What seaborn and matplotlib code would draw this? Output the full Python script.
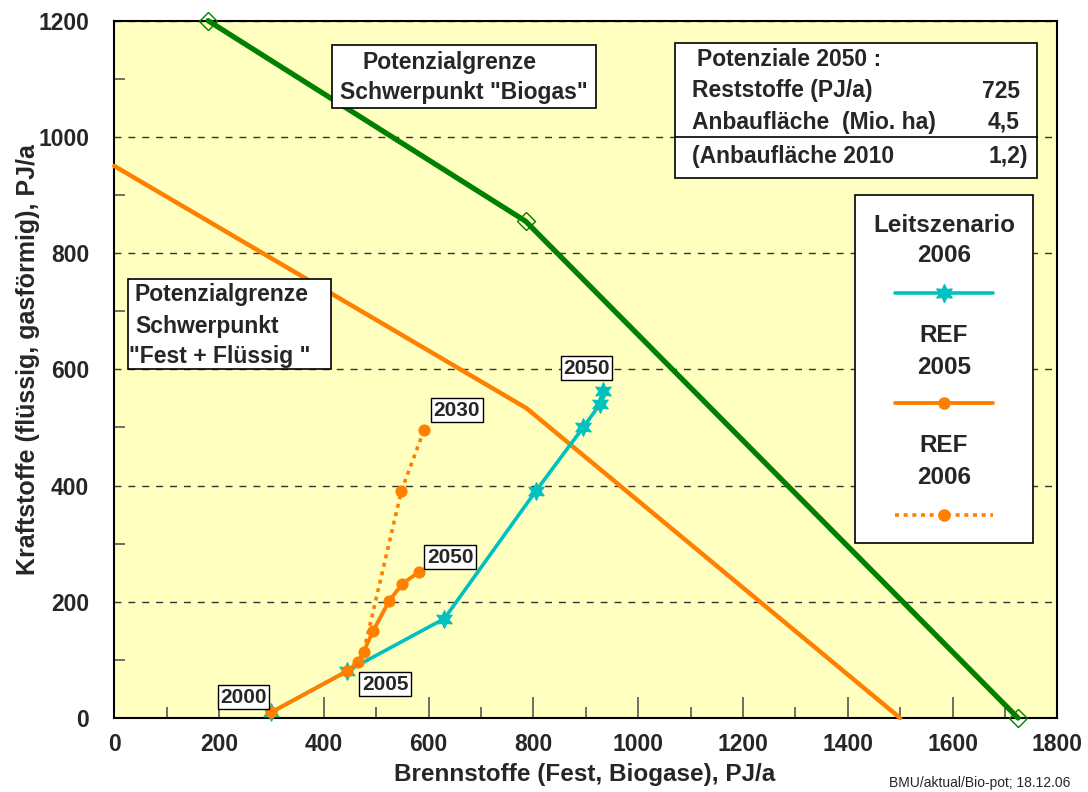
import matplotlib
matplotlib.use("Agg")
import matplotlib.pyplot as plt
import seaborn as sns
from matplotlib.patches import Rectangle
from matplotlib.ticker import MultipleLocator

# ---------------- data ----------------
grenze_biogas_x = [179, 785, 1725]
grenze_biogas_y = [1200, 855, 0]
grenze_fest_x = [0, 787, 1500]
grenze_fest_y = [950, 533, 0]

leit2006_x = [300, 445, 630, 805, 895, 927, 932]
leit2006_y = [10, 81, 171, 391, 500, 540, 562]

ref2005_x = [300, 445, 465, 476, 494, 525, 550, 581]
ref2005_y = [10, 81, 96, 114, 150, 202, 231, 251]

ref2006_x = [300, 445, 465, 476, 548, 591]
ref2006_y = [10, 81, 96, 114, 391, 495]

year_labels = ["2000", "2005", "2050", "2030", "2050"]
year_label_x = [247, 517, 641, 654, 901]
year_label_y = [36, 58, 277, 530, 602]

x_ticks = [0, 200, 400, 600, 800, 1000, 1200, 1400, 1600, 1800]
y_ticks = [0, 200, 400, 600, 800, 1000, 1200]

x_title = "Brennstoffe (Fest, Biogase), PJ/a"
y_title = "Kraftstoffe (flüssig, gasförmig), PJ/a"

box_biogas = ["Potenzialgrenze", "Schwerpunkt \"Biogas\""]
box_fest = ["Potenzialgrenze", "Schwerpunkt", "\"Fest + Flüssig \""]
pot_rows = ["Reststoffe (PJ/a)", "Anbaufläche  (Mio. ha)", "(Anbaufläche 2010"]
pot_vals = ["725", "4,5", "1,2)"]
legend_titles = [["Leitszenario", "2006"], ["REF", "2005"], ["REF", "2006"]]
footer = "BMU/aktual/Bio-pot; 18.12.06"

GREEN = "#008000"
ORANGE = "#FF8000"
CYAN = "#00C0C0"
BG = "#FFFFC0"
DOTS = (0, (1.1, 1.3))

sns.set_theme(style="ticks")
plt.rcParams["font.family"] = ["Liberation Sans", "DejaVu Sans"]
plt.rcParams["font.weight"] = "bold"
plt.rcParams["axes.labelweight"] = "bold"

W, H = 1088, 792
fig = plt.figure(figsize=(W / 100, H / 100), dpi=100)
fig.patch.set_facecolor("white")
L, R, T, B = 114.3, 1057.3, 20.7, 718.0
ax = fig.add_axes([L / W, 1 - B / H, (R - L) / W, (B - T) / H])
ax.set_facecolor(BG)


def af(px, py):
    return ((px - L) / (R - L), (B - py) / (B - T))


# ---------------- lines ----------------
sns.lineplot(x=grenze_biogas_x, y=grenze_biogas_y, sort=False, estimator=None, ax=ax,
             color=GREEN, linewidth=3.8, marker="D", markersize=9, markerfacecolor="none",
             markeredgecolor=GREEN, markeredgewidth=1.0, clip_on=False, zorder=3, legend=False)
sns.lineplot(x=grenze_fest_x, y=grenze_fest_y, sort=False, estimator=None, ax=ax,
             color=ORANGE, linewidth=3.2, clip_on=False, zorder=3, legend=False)
sns.lineplot(x=leit2006_x, y=leit2006_y, sort=False, estimator=None, ax=ax,
             color=CYAN, linewidth=2.6, marker=(6, 1, 0), markersize=13,
             markeredgecolor=CYAN, markerfacecolor=CYAN, clip_on=False, zorder=4, legend=False)
sns.lineplot(x=ref2006_x, y=ref2006_y, sort=False, estimator=None, ax=ax,
             color=ORANGE, linewidth=2.6, linestyle=DOTS, dash_capstyle="butt",
             marker="o", markersize=8, markeredgecolor=ORANGE, markevery=[4, 5],
             clip_on=False, zorder=5, legend=False)
sns.lineplot(x=ref2005_x, y=ref2005_y, sort=False, estimator=None, ax=ax,
             color=ORANGE, linewidth=2.8, marker="o", markersize=8,
             markeredgecolor=ORANGE, clip_on=False, zorder=5, legend=False)

for lab, lx, ly in zip(year_labels, year_label_x, year_label_y):
    ax.text(lx, ly, lab, ha="center", va="center", fontsize=15, fontweight="bold",
            zorder=7, bbox=dict(boxstyle="square,pad=0.12", fc="white", ec="black", lw=1.0))

# ---------------- axes ----------------
ax.set_xlim(0, 1800)
ax.set_ylim(0, 1200)
ax.set_xticks(x_ticks)
ax.set_yticks(y_ticks)
ax.xaxis.set_minor_locator(MultipleLocator(100))
ax.yaxis.set_minor_locator(MultipleLocator(100))
ax.tick_params(axis="x", which="major", direction="in", length=15, width=1.2,
               color="#555555", pad=11, labelsize=16.5)
ax.tick_params(axis="x", which="minor", direction="in", length=8, width=1.2, color="#555555")
ax.tick_params(axis="y", which="major", direction="in", length=0, pad=18, labelsize=16.5)
ax.tick_params(axis="y", which="minor", direction="in", length=8, width=1.2, color="#555555")
for t in ax.get_xticklabels() + ax.get_yticklabels():
    t.set_fontweight("bold")
ax.yaxis.grid(True, which="major", linestyle=(0, (5, 5)), color="#333333", linewidth=1.0)
ax.set_axisbelow(True)
for s in ax.spines.values():
    s.set_color("black")
    s.set_linewidth(1.5)

ax.set_xlabel(x_title, fontsize=17.5, fontweight="bold", va="center")
ax.xaxis.set_label_coords(*af(585, 774))
ax.set_ylabel(y_title, fontsize=18, fontweight="bold", va="center")
ax.yaxis.set_label_coords(*af(28, 360))


# ---------------- boxes ----------------
def rect(x0, y0, x1, y1):
    a = af(x0, y1)
    b = af(x1, y0)
    ax.add_patch(Rectangle(a, b[0] - a[0], b[1] - a[1], transform=ax.transAxes,
                           fc="white", ec="black", lw=1.2, zorder=8, clip_on=False))


def txt(px, py, s, ha="left", size=16.5):
    ax.text(*af(px, py), s, transform=ax.transAxes, ha=ha, va="center",
            fontsize=size, fontweight="bold", zorder=9)


# Biogas box
rect(332, 45, 596, 108)
txt(450, 63, box_biogas[0], ha="center")
txt(464, 93, box_biogas[1], ha="center")

# Fest box
rect(128, 279, 331, 369)
txt(135, 295, box_fest[0])
txt(135, 326, box_fest[1])
txt(129, 356, box_fest[2])

# Potenziale box
rect(675, 43, 1037, 178)
txt(697, 60, "Potenziale 2050 :")
row_y = [91, 122, 156]
val_x = [1020, 1020, 1028]
for s, v, yy, vx in zip(pot_rows, pot_vals, row_y, val_x):
    txt(692, yy, s)
    txt(vx, yy, v, ha="right")
a = af(675, 137)
b = af(1037, 137)
ax.plot([a[0], b[0]], [a[1], b[1]], transform=ax.transAxes, color="black", lw=1.2,
        zorder=9, clip_on=False)

# Legend box
rect(855, 195, 1033, 543)
cx = 944
title_y = [(225, 256), (336, 367), (446, 478)]
line_y = [293, 403, 515]
styles = [
    dict(color=CYAN, lw=2.6, ls="-", marker=(6, 1, 0), ms=13, mec=CYAN),
    dict(color=ORANGE, lw=2.8, ls="-", marker="o", ms=8, mec=ORANGE),
    dict(color=ORANGE, lw=2.6, ls=DOTS, marker="o", ms=8, mec=ORANGE),
]
for (t1, t2), (y1, y2), ly, st in zip(legend_titles, title_y, line_y, styles):
    txt(cx, y1, t1, ha="center", size=17.5)
    txt(cx, y2, t2, ha="center", size=17.5)
    p0 = af(895, ly)
    p1 = af(993, ly)
    ax.plot([p0[0], p1[0]], [p0[1], p1[1]], transform=ax.transAxes, zorder=9,
            clip_on=False, color=st["color"], lw=st["lw"], ls=st["ls"],
            solid_capstyle="round", dash_capstyle="butt")
    pm = af(cx, ly)
    ax.plot([pm[0]], [pm[1]], transform=ax.transAxes, zorder=10, clip_on=False,
            color=st["color"], marker=st["marker"], ms=st["ms"], mec=st["mec"], ls="none")

fig.text(1070 / W, 1 - 783 / H, footer, ha="right", va="center", fontsize=10,
         fontweight="normal", family=["Liberation Sans Narrow", "Liberation Sans", "DejaVu Sans"])

fig.savefig("out.png", dpi=100)
